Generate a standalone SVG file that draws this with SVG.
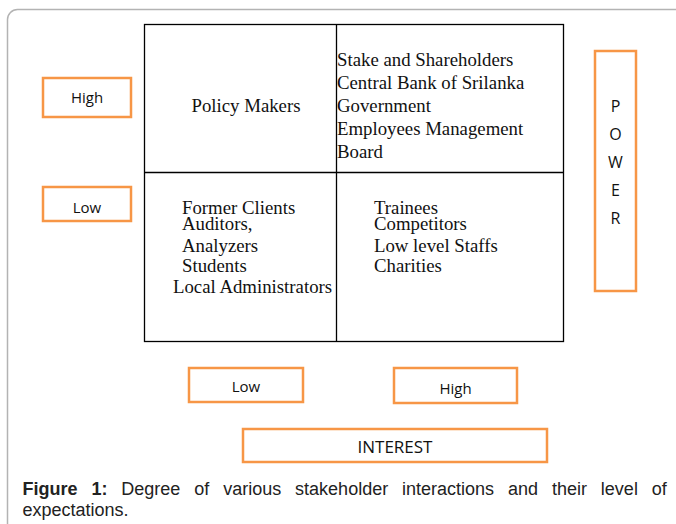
<svg xmlns="http://www.w3.org/2000/svg" width="676" height="524" viewBox="0 0 676 524">
  <style>
    .frame { fill: #ffffff; stroke: #b3b3b3; stroke-width: 1.5; }
    .grid { fill: none; stroke: #000000; stroke-width: 1.3; }
    .tag { fill: #ffffff; stroke: #f79646; stroke-width: 2.5; }
    .serif { font-family: "Liberation Serif", "Times New Roman", serif; font-size: 18.8px; fill: #111111; }
    .label { font-family: "Open Sans", "Noto Sans", sans-serif; font-size: 15px; fill: #111111; text-anchor: middle; }
    .axis { font-size: 16px; }
    .big { font-size: 17px; }
    .cap { font-family: "Liberation Sans", Arial, sans-serif; font-size: 18px; fill: #222222; }
  </style>
  <rect x="0" y="0" width="676" height="524" fill="#ffffff"/>
  <rect class="frame" x="7.5" y="9.5" width="700" height="560" rx="10" ry="10"/>

  <g id="matrix">
    <rect class="grid" x="144.5" y="24.5" width="419" height="317"/>
    <line class="grid" x1="336.5" y1="24.5" x2="336.5" y2="341.5"/>
    <line class="grid" x1="144.5" y1="172.5" x2="563.5" y2="172.5"/>
  </g>

  <g id="q-high-low">
    <text class="serif" x="246" y="112" text-anchor="middle">Policy Makers</text>
  </g>

  <g id="q-high-high">
    <text class="serif" x="337" y="66">Stake and Shareholders</text>
    <text class="serif" x="337" y="89">Central Bank of Srilanka</text>
    <text class="serif" x="337" y="112">Government</text>
    <text class="serif" x="337" y="135">Employees Management</text>
    <text class="serif" x="337" y="158">Board</text>
  </g>

  <g id="q-low-low">
    <text class="serif" x="182" y="214">Former Clients</text>
    <text class="serif" x="182" y="230">Auditors,</text>
    <text class="serif" x="182" y="251.5">Analyzers</text>
    <text class="serif" x="182" y="272">Students</text>
    <text class="serif" x="173" y="293">Local Administrators</text>
  </g>

  <g id="q-low-high">
    <text class="serif" x="374" y="214">Trainees</text>
    <text class="serif" x="374" y="230">Competitors</text>
    <text class="serif" x="374" y="251.5">Low level Staffs</text>
    <text class="serif" x="374" y="272">Charities</text>
  </g>

  <g id="power-high">
    <rect class="tag" x="43" y="78" width="88" height="39"/>
    <text class="label" x="87" y="102.5">High</text>
  </g>

  <g id="power-low">
    <rect class="tag" x="43" y="187" width="88" height="34"/>
    <text class="label" x="87" y="213">Low</text>
  </g>

  <g id="power">
    <rect class="tag" x="595" y="51" width="41" height="240"/>
    <text class="label axis" x="615.5" y="112">P</text>
    <text class="label axis" x="615.5" y="140">O</text>
    <text class="label axis" x="615.5" y="168">W</text>
    <text class="label axis" x="615.5" y="196">E</text>
    <text class="label axis" x="615.5" y="224">R</text>
  </g>

  <g id="interest-low">
    <rect class="tag" x="189" y="368" width="114" height="34"/>
    <text class="label" x="246" y="392">Low</text>
  </g>

  <g id="interest-high">
    <rect class="tag" x="394" y="368" width="123" height="35"/>
    <text class="label" x="455.5" y="393.5">High</text>
  </g>

  <g id="interest">
    <rect class="tag" x="243" y="429" width="304" height="33"/>
    <text class="label big" x="395" y="453">INTEREST</text>
  </g>

  <g id="caption">
    <text class="cap" x="22.5" y="494.5" word-spacing="8.9"><tspan font-weight="bold">Figure 1:</tspan> Degree of various stakeholder interactions and their level of</text>
    <text class="cap" x="22.5" y="516">expectations.</text>
  </g>
</svg>
